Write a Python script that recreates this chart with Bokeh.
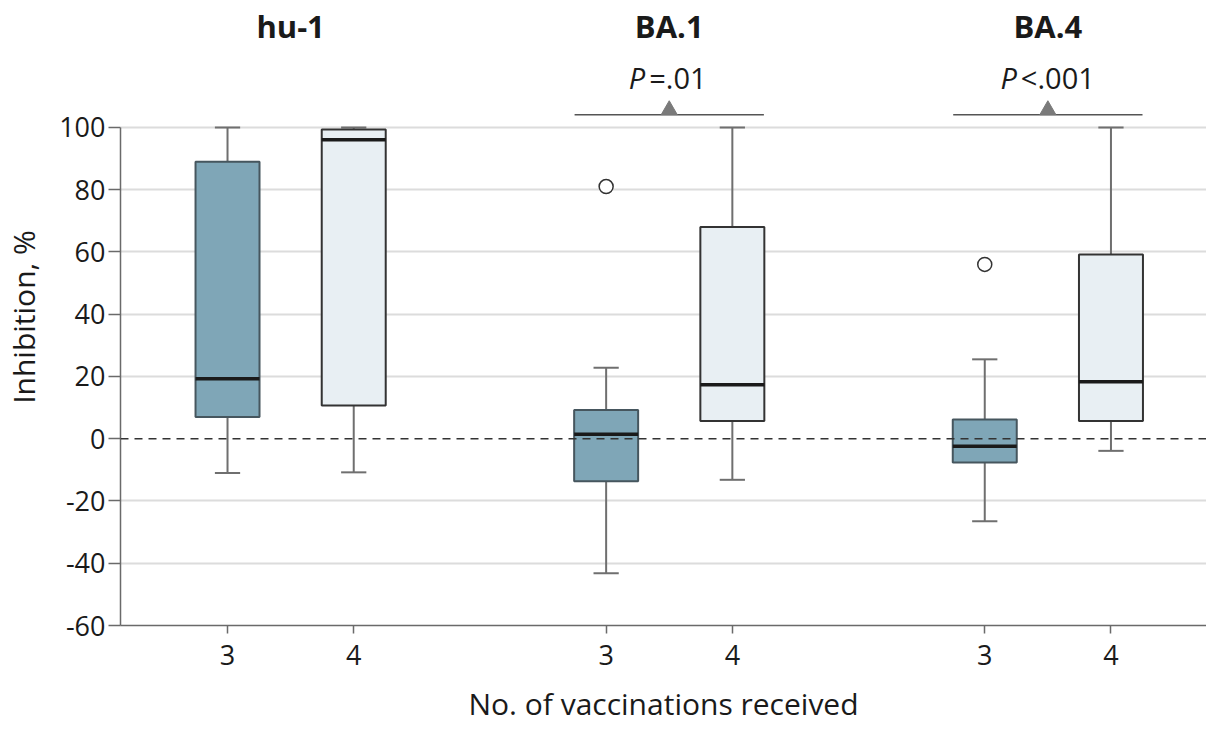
from bokeh.plotting import figure
from bokeh.models import FixedTicker, Span, Range1d, ColumnDataSource
from bokeh.core.properties import value
from bokeh.embed import file_html
from bokeh.resources import INLINE

# ---------------- data ----------------
groups = ["hu-1", "BA.1", "BA.4"]
dose_labels = ["3", "4", "3", "4", "3", "4"]
positions = [0, 1, 3, 4, 6, 7]
q1 = [7.0, 10.7, -13.7, 5.7, -7.6, 5.7]
median = [19.3, 96.0, 1.4, 17.3, -2.4, 18.3]
q3 = [89.0, 99.3, 9.2, 68.0, 6.2, 59.2]
lower = [-11.0, -10.8, -43.2, -13.2, -26.5, -3.9]
upper = [100.0, 100.0, 22.8, 100.0, 25.5, 100.0]
outlier_x = [3, 6]
outlier_y = [81.0, 56.0]
sig_from = [3, 6]
sig_to = [4, 7]
p_text = ["=.01", "<.001"]
y_ticks = [-60, -40, -20, 0, 20, 40, 60, 80, 100]
y_tick_labels = ["-60", "-40", "-20", "0", "20", "40", "60", "80", "100"]

# ---------------- style ----------------
FONT = "Open Sans"
BOX_W = 0.507
CAP_W = 0.2
DARK_FILL = "#7fa6b7"
LIGHT_FILL = "#e8eff3"
DARK_LINE = "#46565e"
LIGHT_LINE = "#333333"
WHISKER = "#6f6f6f"
AXIS_C = "#6a6a6a"

fills = [DARK_FILL if d == "3" else LIGHT_FILL for d in dose_labels]
edges = [DARK_LINE if d == "3" else LIGHT_LINE for d in dose_labels]

p = figure(width=1206, height=726, output_backend="svg", toolbar_location=None,
           x_range=Range1d(-0.848, 7.757), y_range=Range1d(-60, 138.2),
           min_border_left=120, min_border_right=0, min_border_top=8,
           min_border_bottom=97)
p.outline_line_color = None
p.background_fill_color = "white"

# grid
p.xgrid.visible = False
p.ygrid.ticker = FixedTicker(ticks=[t for t in y_ticks if t not in (0, -60)])
p.ygrid.grid_line_color = "#dcdcdc"
p.ygrid.grid_line_width = 2

# zero reference line
p.add_layout(Span(location=0, dimension="width", line_color="#333333",
                  line_width=1.5, line_dash="8 6"))

src = ColumnDataSource(dict(
    x=positions, q1=q1, q3=q3, med=median, lo=lower, hi=upper,
    fill=fills, edge=edges,
    xl=[x - BOX_W / 2 for x in positions], xr=[x + BOX_W / 2 for x in positions],
    cl=[x - CAP_W / 2 for x in positions], cr=[x + CAP_W / 2 for x in positions],
))

# whiskers
p.segment(x0="x", y0="q3", x1="x", y1="hi", source=src, line_color=WHISKER, line_width=2)
p.segment(x0="x", y0="q1", x1="x", y1="lo", source=src, line_color=WHISKER, line_width=2)
p.segment(x0="cl", y0="hi", x1="cr", y1="hi", source=src, line_color=WHISKER, line_width=2)
p.segment(x0="cl", y0="lo", x1="cr", y1="lo", source=src, line_color=WHISKER, line_width=2)

# boxes
p.vbar(x="x", width=BOX_W, bottom="q1", top="q3", source=src,
       fill_color="fill", line_color="edge", line_width=2)
# medians
p.segment(x0="xl", y0="med", x1="xr", y1="med", source=src,
          line_color="#1a1a1a", line_width=3.5)

# outliers
p.scatter(x=outlier_x, y=outlier_y, marker="circle", size=14,
          fill_color="white", line_color="#333333", line_width=1.5)

# group titles
title_x = [(positions[2 * i] + positions[2 * i + 1]) / 2 for i in range(len(groups))]
p.text(x=title_x, y=[132.7] * 3, text=groups, text_font=value(FONT),
       text_font_style="bold", text_font_size="31px", text_align="center",
       text_baseline="middle", text_color="#1a1a1a")

# significance brackets
sig_mid = [(a + b) / 2 for a, b in zip(sig_from, sig_to)]
p.segment(x0=[a - 0.25 for a in sig_from], y0=[104.1] * 2,
          x1=[b + 0.25 for b in sig_to], y1=[104.1] * 2,
          line_color="#555555", line_width=1.5)
p.scatter(x=sig_mid, y=[105.6] * 2, marker="triangle", size=16,
          fill_color="#7a7a7a", line_color="#7a7a7a")
p_offsets = [-24, -31]
for xm, txt, off in zip(sig_mid, p_text, p_offsets):
    p.text(x=[xm], y=[116], text=["P"], text_font=value(FONT),
           text_font_style="italic", text_font_size="29px", text_align="right",
           text_baseline="middle", text_color="#1a1a1a", x_offset=off)
    p.text(x=[xm], y=[116], text=[txt], text_font=value(FONT),
           text_font_size="29px", text_align="left",
           text_baseline="middle", text_color="#1a1a1a", x_offset=off + 4)

# axes
p.yaxis.ticker = FixedTicker(ticks=y_ticks)
p.yaxis.major_label_overrides = {t: s for t, s in zip(y_ticks, y_tick_labels)}
p.yaxis.bounds = (-60, 100)
p.yaxis.axis_label = "Inhibition, %"
p.xaxis.ticker = FixedTicker(ticks=positions)
p.xaxis.major_label_overrides = {x: d for x, d in zip(positions, dose_labels)}
p.xaxis.axis_label = "No. of vaccinations received"

for ax in (p.xaxis[0], p.yaxis[0]):
    ax.axis_line_color = AXIS_C
    ax.axis_line_width = 1.5
    ax.major_tick_line_color = AXIS_C
    ax.major_tick_line_width = 1.5
    ax.minor_tick_line_color = None
    ax.major_tick_in = 0
    ax.major_label_text_font = FONT
    ax.major_label_text_font_size = "27px"
    ax.major_label_text_color = "#1a1a1a"
    ax.axis_label_text_font = FONT
    ax.axis_label_text_font_size = "30px"
    ax.axis_label_text_font_style = "normal"
    ax.axis_label_text_color = "#1a1a1a"

p.yaxis.major_tick_out = 12
p.yaxis.major_label_standoff = 3
p.yaxis.axis_label_standoff = 12
p.xaxis.major_tick_out = 8
p.xaxis.major_label_standoff = 11
p.xaxis.axis_label_standoff = 15

open("out.html", "w").write(file_html(p, INLINE))
